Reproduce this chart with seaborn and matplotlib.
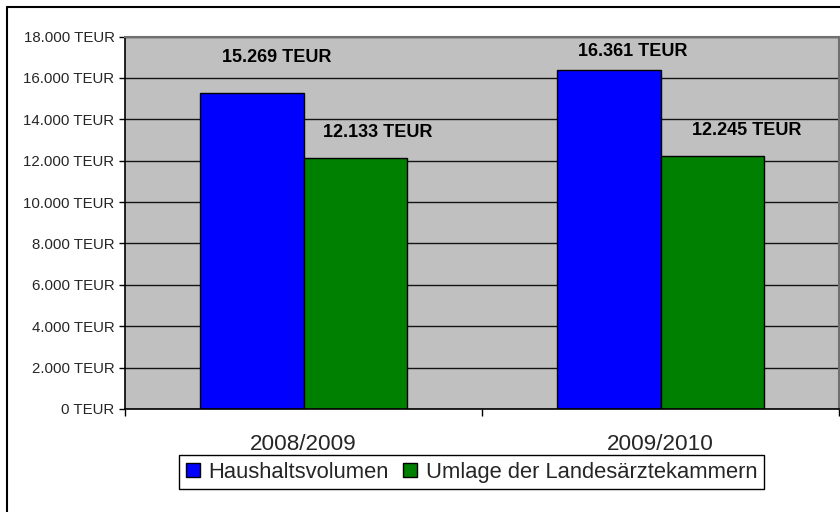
import matplotlib
matplotlib.use('Agg')
import numpy as np
import pandas as pd
import matplotlib.pyplot as plt
from matplotlib.lines import Line2D
from matplotlib.ticker import FuncFormatter, FixedLocator
import seaborn as sns

# data
years = ['2008/2009', '2009/2010']
series = ['Haushaltsvolumen', 'Umlage der Landesärztekammern']
haushalt = [15269, 16361]
umlage = [12133, 12245]

df = pd.DataFrame({
    'Jahr': years * 2,
    'Serie': [series[0]] * 2 + [series[1]] * 2,
    'Wert': haushalt + umlage,
})

sns.set_theme(style='white')
plt.rcParams['font.family'] = ['Liberation Sans', 'DejaVu Sans']

fig = plt.figure(figsize=(8.4, 5.12), dpi=100)
ax = fig.add_axes([125 / 840, 103 / 512, 714 / 840, 372.5 / 512])
ax.set_facecolor('#C0C0C0')

sns.barplot(data=df, x='Jahr', y='Wert', hue='Serie', order=years, hue_order=series,
            palette=['#0000FF', '#008000'], width=0.58, edgecolor='black',
            linewidth=1, saturation=1, ax=ax, legend=True)

ax.set_xlim(-0.5, 1.5)
ax.set_ylim(0, 18000)
ax.set_yticks(np.arange(0, 18001, 2000))
ax.yaxis.set_major_formatter(FuncFormatter(lambda v, p: f'{int(v):,} TEUR'.replace(',', '.')))
ax.yaxis.grid(True, color='#141414', linewidth=1.0)
ax.set_axisbelow(True)
ax.set_xlabel('')
ax.set_ylabel('')

ax.tick_params(axis='y', which='major', left=True, length=4.5, width=1, color='black',
               pad=3, labelsize=10.8)
ax.tick_params(axis='x', which='major', bottom=False, length=0, pad=18, labelsize=16.2)
ax.xaxis.set_minor_locator(FixedLocator([-0.5, 0.5, 1.5]))
ax.tick_params(axis='x', which='minor', bottom=True, length=5, width=1, color='black')

for side in ['left', 'bottom']:
    ax.spines[side].set_color('black')
    ax.spines[side].set_linewidth(1.2)
for side in ['top', 'right']:
    ax.spines[side].set_color('#707070')
    ax.spines[side].set_linewidth(1.5)

# value labels (Excel placed them slightly off the bars)
offsets = [(25, 36), (24, 19), (22, 25), (34, 25)]
bars = [p for c in ax.containers for p in c]
vals = haushalt + umlage
for bar, v, (dx, dy) in zip(bars, vals, offsets):
    x = bar.get_x() + bar.get_width() / 2
    ax.annotate(f'{v:,} TEUR'.replace(',', '.'), xy=(x, v), xytext=(dx, dy),
                textcoords='offset pixels', ha='center', va='center',
                fontsize=13, fontweight='bold', color='black')

leg = ax.legend(loc='upper center', bbox_to_anchor=(471.5 / 840, 1 - 455 / 512),
                bbox_transform=fig.transFigure, ncol=2, fontsize=15.8, frameon=True,
                fancybox=False, shadow=False, edgecolor='black', framealpha=1,
                handlelength=0.64, handleheight=0.64, handletextpad=0.4,
                columnspacing=0.64, borderpad=0.3, borderaxespad=0)
leg.get_frame().set_linewidth(1)
for h in leg.legend_handles:
    h.set_edgecolor('black')
    h.set_linewidth(1)

# outer chart border
fig.add_artist(Line2D([6.5 / 840, 6.5 / 840], [0, 1 - 7 / 512], transform=fig.transFigure,
                      color='black', linewidth=1.5))
fig.add_artist(Line2D([6.5 / 840, 1], [1 - 7 / 512, 1 - 7 / 512], transform=fig.transFigure,
                      color='black', linewidth=1.5))

fig.savefig('out.png', dpi=100)
